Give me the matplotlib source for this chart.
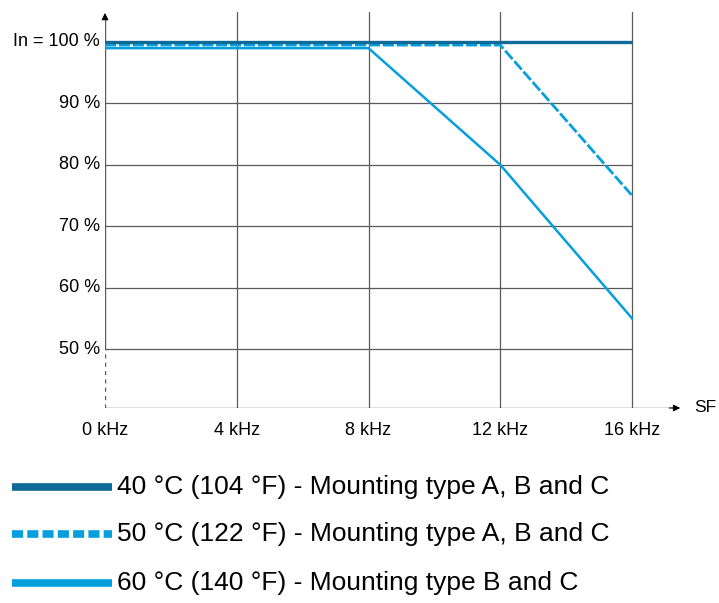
import matplotlib
matplotlib.use("Agg")
import matplotlib.pyplot as plt
from matplotlib.lines import Line2D

plt.rcParams['font.family'] = ['Liberation Sans', 'DejaVu Sans']

freq_khz = [0, 4, 8, 12, 16]
x_ticklabels = ['0 kHz', '4 kHz', '8 kHz', '12 kHz', '16 kHz']
y_ticks = [50, 60, 70, 80, 90, 100]
y_ticklabels = ['50 %', '60 %', '70 %', '80 %', '90 %', 'In = 100 %']

s40_x = [0, 16]
s40_y = [100, 100]
s50_x = [0, 12, 16]
s50_y = [99.5, 99.5, 75]
s60_x = [0, 8, 12, 16]
s60_y = [99, 99, 80, 55]

labels = ['40 °C (104 °F) - Mounting type A, B and C',
          '50 °C (122 °F) - Mounting type A, B and C',
          '60 °C (140 °F) - Mounting type B and C']

dark = '#0F6A97'
light = '#069FDE'
grid_c = '#5a5a5a'

fig = plt.figure(figsize=(7.19, 6.03), dpi=100)
ax = fig.add_axes([105/719, 1-408/603, (690-105)/719, (408-12)/603])
xmax = (690-105)/527*16
xarrow = (683-105)/527*16
ymin = 100 - (408-42)/6.14
ymax = 100 + (42-12)/6.14
ax.set_xlim(0, xmax)
ax.set_ylim(ymin, ymax)
for s in ax.spines.values():
    s.set_visible(False)
ax.set_xticks([])
ax.set_yticks([])

# grid
for yv in y_ticks:
    ax.plot([0, 16], [yv, yv], color=grid_c, lw=0.9, zorder=1)
for xv in freq_khz[1:]:
    ax.plot([xv, xv], [ymin, ymax], color=grid_c, lw=0.9, zorder=1)

# axes
ax.plot([0, 0], [50, ymax - 0.8], color=grid_c, lw=1.0, zorder=2)
ax.plot([0, 0], [ymin, 50], color=grid_c, lw=1.0, ls=(0, (3, 3)), zorder=2)
ax.plot([0, xarrow - 0.2], [ymin, ymin], color=grid_c, lw=1.0, zorder=2)
ax.annotate('', xy=(0, ymax + 0.3), xytext=(0, ymax - 1.5),
            arrowprops=dict(arrowstyle='-|>', color='black', lw=0.8,
                            mutation_scale=10), annotation_clip=False)
ax.annotate('', xy=(xarrow, ymin), xytext=(xarrow - 0.5, ymin),
            arrowprops=dict(arrowstyle='-|>', color='black', lw=0.8,
                            mutation_scale=10), annotation_clip=False)

# data lines
ax.plot(s40_x, s40_y, color=dark, lw=2.4, zorder=5, solid_capstyle='butt')
ax.plot(s50_x, s50_y, color=light, lw=2.0, zorder=4, dashes=(4, 1.0))
ax.plot(s60_x, s60_y, color=light, lw=1.8, zorder=3)

# tick labels
for xv, lab in zip(freq_khz, x_ticklabels):
    ax.text(xv, ymin - 3.7, lab, ha='center', va='center', fontsize=13)
for yv, lab in zip(y_ticks, y_ticklabels):
    ax.text(-0.15, yv, lab, ha='right', va='center', fontsize=13)
fig.text(694/719, 1 - 407/603, 'SF', ha='left', va='center', fontsize=12.5)

# legend
ys = [487, 534, 583]
styles = [dict(color=dark, lw=5.5, solid_capstyle='butt'),
          dict(color=light, lw=5.5, dashes=(1.45, 0.55), dash_capstyle='butt'),
          dict(color=light, lw=5.5, solid_capstyle='butt')]
for yp, lab, st in zip(ys, labels, styles):
    yf = 1 - yp/603
    fig.add_artist(Line2D([12/719, 112/719], [yf, yf], transform=fig.transFigure, **st))
    fig.text(117/719, yf, lab, ha='left', va='center', fontsize=19)

fig.savefig('out.png', dpi=100)
